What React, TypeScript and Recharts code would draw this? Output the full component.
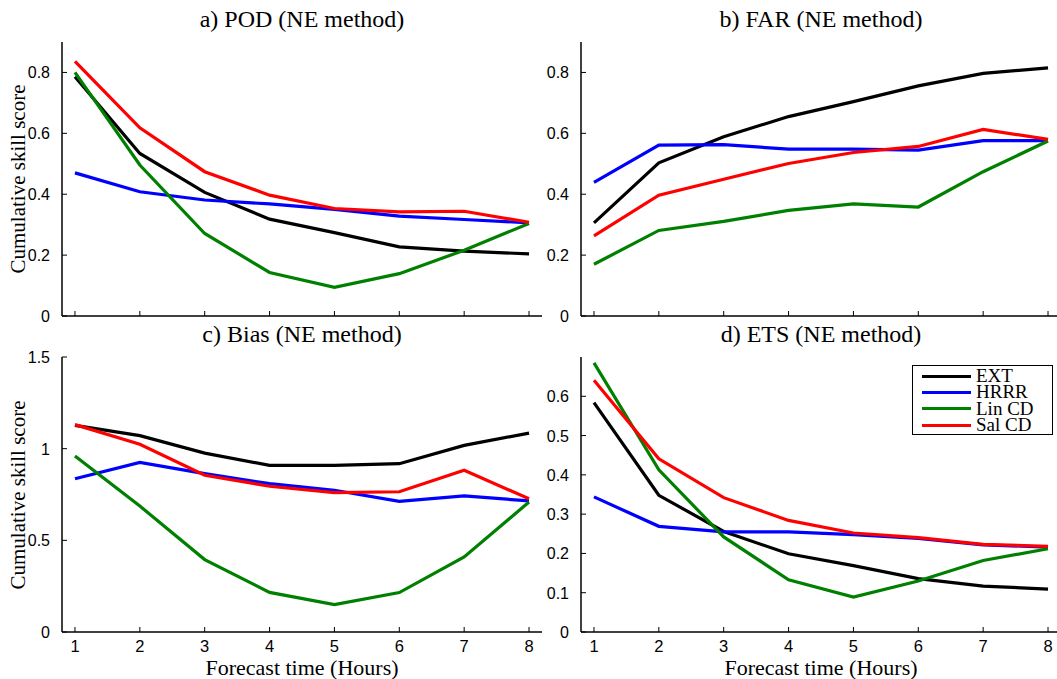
import { Legend, Line, LineChart, XAxis, YAxis } from "recharts";

const hours = [1, 2, 3, 4, 5, 6, 7, 8];
const seriesNames = ["EXT", "HRRR", "Lin CD", "Sal CD"];
const seriesColors = ["#000000", "#0000ff", "#008000", "#ff0000"];

// a) POD
const podExt = [0.786, 0.534, 0.406, 0.318, 0.274, 0.227, 0.213, 0.204];
const podHrrr = [0.47, 0.408, 0.381, 0.368, 0.35, 0.328, 0.317, 0.306];
const podLin = [0.8, 0.496, 0.271, 0.143, 0.094, 0.139, 0.216, 0.304];
const podSal = [0.836, 0.618, 0.474, 0.397, 0.353, 0.342, 0.344, 0.308];

// b) FAR
const farExt = [0.306, 0.503, 0.589, 0.655, 0.704, 0.756, 0.797, 0.815];
const farHrrr = [0.439, 0.561, 0.563, 0.548, 0.548, 0.545, 0.576, 0.576];
const farLin = [0.17, 0.281, 0.311, 0.347, 0.368, 0.358, 0.474, 0.575];
const farSal = [0.263, 0.397, 0.449, 0.501, 0.537, 0.557, 0.613, 0.58];

// c) Bias
const biasExt = [1.127, 1.071, 0.976, 0.909, 0.909, 0.918, 1.018, 1.085];
const biasHrrr = [0.836, 0.925, 0.864, 0.809, 0.773, 0.713, 0.742, 0.715];
const biasLin = [0.96, 0.687, 0.395, 0.216, 0.149, 0.215, 0.409, 0.709];
const biasSal = [1.131, 1.024, 0.855, 0.795, 0.76, 0.765, 0.882, 0.727];

// d) ETS
const etsExt = [0.584, 0.348, 0.256, 0.199, 0.169, 0.136, 0.117, 0.109];
const etsHrrr = [0.344, 0.269, 0.255, 0.255, 0.248, 0.238, 0.222, 0.216];
const etsLin = [0.685, 0.413, 0.242, 0.133, 0.089, 0.13, 0.182, 0.212];
const etsSal = [0.641, 0.441, 0.342, 0.284, 0.252, 0.24, 0.223, 0.218];

const ticksScore = [0, 0.2, 0.4, 0.6, 0.8];
const ticksBias = [0, 0.5, 1, 1.5];
const ticksEts = [0, 0.1, 0.2, 0.3, 0.4, 0.5, 0.6];

const keys = ["ext", "hrrr", "lin", "sal"];
const SERIF = "'Liberation Serif', 'Times New Roman', serif";
const SANS = "'Liberation Sans', Arial, sans-serif";

const CHART_W = 560;
const AXIS_W = 62;
const PLOT_W = 480;
const TICK = 5;

// matlab style: tick marks point inward on all four sides
function bottomTick(showLabel: boolean) {
  return (p: any) => (
    <g>
      <line x1={p.x} y1={p.y} x2={p.x} y2={p.y - TICK} stroke="#000" strokeWidth={1} />
      {showLabel && (
        <text x={p.x} y={p.y + 20} textAnchor="middle" fill="#000" fontSize={16.5} fontFamily={SANS}>
          {p.payload.value}
        </text>
      )}
    </g>
  );
}

const topTick = (p: any) => (
  <line x1={p.x} y1={p.y} x2={p.x} y2={p.y + TICK} stroke="#000" strokeWidth={1} />
);

const leftTick = (p: any) => (
  <g>
    <line x1={p.x} y1={p.y} x2={p.x + TICK} y2={p.y} stroke="#000" strokeWidth={1} />
    <text x={p.x - 12} y={p.y + 6} textAnchor="end" fill="#000" fontSize={16} fontFamily={SANS}>
      {String(p.payload.value)}
    </text>
  </g>
);

const rightTick = (p: any) => (
  <line x1={p.x} y1={p.y} x2={p.x - TICK} y2={p.y} stroke="#000" strokeWidth={1} />
);

function renderLegend(props: any) {
  const payload = props.payload ?? [];
  return (
    <div
      style={{
        width: 141,
        height: 70,
        boxSizing: "border-box",
        border: "1.5px solid #000",
        background: "#fff",
        paddingTop: 2,
      }}
    >
      {payload.map((p: any) => (
        <div key={p.value} style={{ display: "flex", alignItems: "center", height: 16.3 }}>
          <div style={{ width: 49, height: 3, background: p.color, marginLeft: 9, marginRight: 5 }} />
          <span style={{ fontFamily: SERIF, fontSize: 19, lineHeight: "16px", color: "#000" }}>
            {p.value}
          </span>
        </div>
      ))}
    </div>
  );
}

interface PanelProps {
  left: number;
  plotTop: number;
  plotH: number;
  title: string;
  series: number[][];
  domain: [number, number];
  yTicks: number[];
  showX: boolean;
  showYLabel: boolean;
  legend?: boolean;
}

function Panel({ left, plotTop, plotH, title, series, domain, yTicks, showX, showYLabel, legend }: PanelProps) {
  const data = hours.map((h, i) => {
    const row: Record<string, number> = { h };
    keys.forEach((k, j) => (row[k] = series[j][i]));
    return row;
  });
  const chartTop = plotTop - 10;
  const chartH = 10 + plotH + 40;

  return (
    <>
      <div
        style={{
          position: "absolute",
          left: left + AXIS_W,
          top: plotTop - 35,
          width: PLOT_W,
          textAlign: "center",
          fontFamily: SERIF,
          fontSize: 24,
          lineHeight: 1,
          whiteSpace: "nowrap",
        }}
      >
        {title}
      </div>
      {showYLabel && (
        <div
          style={{
            position: "absolute",
            left: left + 18,
            top: plotTop + plotH / 2,
            transform: "translate(-50%, -50%) rotate(-90deg)",
            fontFamily: SERIF,
            fontSize: 21,
            lineHeight: 1,
            whiteSpace: "nowrap",
          }}
        >
          Cumulative skill score
        </div>
      )}
      {showX && (
        <div
          style={{
            position: "absolute",
            left: left + AXIS_W,
            top: plotTop + plotH + 25,
            width: PLOT_W,
            textAlign: "center",
            fontFamily: SERIF,
            fontSize: 22,
            lineHeight: 1,
            whiteSpace: "nowrap",
          }}
        >
          Forecast time (Hours)
        </div>
      )}
      <div style={{ position: "absolute", left, top: chartTop }}>
        <LineChart
          width={CHART_W}
          height={chartH}
          data={data}
          margin={{ top: 10, right: CHART_W - AXIS_W - PLOT_W, left: 0, bottom: 0 }}
        >
          <XAxis
            xAxisId="b"
            type="number"
            dataKey="h"
            domain={[0.8, 8.2]}
            ticks={hours}
            interval={0}
            height={40}
            tickSize={0}
            tickMargin={0}
            tickLine={false}
            axisLine={{ stroke: "#000", strokeWidth: 1.5 }}
            tick={bottomTick(showX)}
          />
          <XAxis
            xAxisId="t"
            orientation="top"
            type="number"
            dataKey="h"
            domain={[0.8, 8.2]}
            ticks={hours}
            interval={0}
            height={0}
            tickSize={0}
            tickMargin={0}
            tickLine={false}
            axisLine={{ stroke: "#000", strokeWidth: 1.5 }}
            tick={topTick}
          />
          <YAxis
            yAxisId="l"
            type="number"
            domain={domain}
            ticks={yTicks}
            interval={0}
            width={AXIS_W}
            tickSize={0}
            tickMargin={0}
            tickLine={false}
            axisLine={{ stroke: "#000", strokeWidth: 1.5 }}
            tick={leftTick}
          />
          <YAxis
            yAxisId="r"
            orientation="right"
            type="number"
            domain={domain}
            ticks={yTicks}
            interval={0}
            width={0}
            tickSize={0}
            tickMargin={0}
            tickLine={false}
            axisLine={{ stroke: "#000", strokeWidth: 1.5 }}
            tick={rightTick}
          />
          {keys.map((k, j) => (
            <Line
              key={k}
              xAxisId="b"
              yAxisId="l"
              type="linear"
              dataKey={k}
              name={seriesNames[j]}
              stroke={seriesColors[j]}
              strokeWidth={3.2}
              dot={false}
              isAnimationActive={false}
            />
          ))}
          {legend && (
            <Legend
              layout="horizontal"
              verticalAlign="middle"
              align="center"
              content={renderLegend}
              wrapperStyle={{ position: "absolute", left: 912 - left, top: 365 - chartTop, width: 141, height: 70 }}
            />
          )}
        </LineChart>
      </div>
    </>
  );
}

export default function App() {
  return (
    <div
      style={{
        position: "fixed",
        left: 0,
        top: 0,
        width: 1057,
        height: 679,
        overflow: "hidden",
        background: "#fff",
      }}
    >
      <Panel
        left={0}
        plotTop={42}
        plotH={274}
        title="a) POD (NE method)"
        series={[podExt, podHrrr, podLin, podSal]}
        domain={[0, 0.9]}
        yTicks={ticksScore}
        showX={false}
        showYLabel
      />
      <Panel
        left={519}
        plotTop={42}
        plotH={274}
        title="b) FAR (NE method)"
        series={[farExt, farHrrr, farLin, farSal]}
        domain={[0, 0.9]}
        yTicks={ticksScore}
        showX={false}
        showYLabel={false}
      />
      <Panel
        left={0}
        plotTop={357}
        plotH={275}
        title="c) Bias (NE method)"
        series={[biasExt, biasHrrr, biasLin, biasSal]}
        domain={[0, 1.5]}
        yTicks={ticksBias}
        showX={true}
        showYLabel
      />
      <Panel
        left={519}
        plotTop={357}
        plotH={275}
        title="d) ETS (NE method)"
        series={[etsExt, etsHrrr, etsLin, etsSal]}
        domain={[0, 0.7]}
        yTicks={ticksEts}
        showX={true}
        showYLabel={false}
        legend
      />
    </div>
  );
}
